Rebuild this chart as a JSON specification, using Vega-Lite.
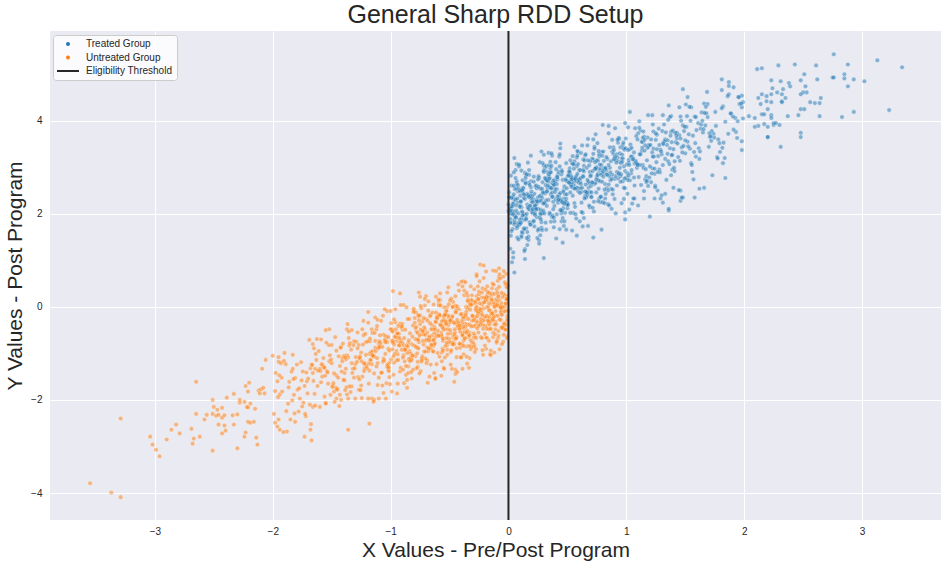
{
"$schema": "https://vega.github.io/schema/vega-lite/v6.json",
"width": 891,
"height": 489,
"autosize": {"type": "none"},
"padding": {"left": 50, "top": 31, "right": 7, "bottom": 46},
"background": "white",
"title": {"text": "General Sharp RDD Setup", "fontSize": 25, "font": "Liberation Sans", "fontWeight": "normal", "color": "#262626", "anchor": "middle", "offset": 2},
"config": {
"view": {"fill": "#eaeaf2", "stroke": null},
"axis": {"grid": true, "gridColor": "#ffffff", "gridWidth": 1, "domain": false, "ticks": false, "labelFont": "Liberation Sans", "labelFontSize": 10, "labelColor": "#262626", "titleFont": "Liberation Sans", "titleFontSize": 21, "titleFontWeight": "normal", "titleColor": "#262626"},
"legend": {"labelFont": "Liberation Sans", "labelFontSize": 10, "labelColor": "#262626"}
},
"datasets": {
"T": [
{"x":0.05,"y":0.74},{"x":0.04,"y":1.17},{"x":0.04,"y":1.06},{"x":0.03,"y":0.96},{"x":0.14,"y":1.03},{"x":0.30,"y":1.05},{"x":0.46,"y":1.38},{"x":0.58,"y":1.53},{"x":0.72,"y":1.49},{"x":0.79,"y":1.66},{"x":1.20,"y":1.94},{"x":1.36,"y":2.07},{"x":0.99,"y":2.03},{"x":0.99,"y":1.88},{"x":1.10,"y":2.18},{"x":1.46,"y":2.28},{"x":1.48,"y":2.35},{"x":1.58,"y":2.35},{"x":1.62,"y":2.54},{"x":1.40,"y":2.56},{"x":1.46,"y":2.50},{"x":1.33,"y":2.43},{"x":1.29,"y":2.33},{"x":1.31,"y":2.24},{"x":0.05,"y":3.20},{"x":0.07,"y":3.07},{"x":0.09,"y":3.02},{"x":0.11,"y":2.93},{"x":0.19,"y":3.25},{"x":0.28,"y":3.34},{"x":0.30,"y":3.27},{"x":0.44,"y":3.51},{"x":1.48,"y":4.68},{"x":1.52,"y":4.51},{"x":1.45,"y":4.29},{"x":1.69,"y":4.36},{"x":1.81,"y":4.66},{"x":1.87,"y":4.57},{"x":1.91,"y":4.72},{"x":1.87,"y":4.83},{"x":1.81,"y":4.89},{"x":1.95,"y":4.51},{"x":1.98,"y":4.54},{"x":1.99,"y":4.40},{"x":1.98,"y":4.29},{"x":1.03,"y":4.19},{"x":1.22,"y":4.12},{"x":1.31,"y":4.12},{"x":1.38,"y":4.10},{"x":0.99,"y":3.95},{"x":0.85,"y":3.89},{"x":0.80,"y":3.91},{"x":1.82,"y":4.31},{"x":1.84,"y":2.77},{"x":1.98,"y":3.37},{"x":2.20,"y":3.65},{"x":2.25,"y":3.91},{"x":2.30,"y":3.91},{"x":1.66,"y":2.56},{"x":1.47,"y":2.35},{"x":1.36,"y":2.11},{"x":1.24,"y":2.33},{"x":1.15,"y":2.33},{"x":1.07,"y":2.33},
{"x":2.76,"y":5.43},{"x":3.13,"y":5.30},{"x":3.34,"y":5.15},{"x":3.23,"y":4.23},{"x":3.02,"y":4.85},{"x":2.88,"y":5.21},{"x":2.85,"y":5.00},{"x":2.85,"y":4.91},{"x":2.93,"y":4.89},{"x":2.88,"y":4.74},{"x":2.75,"y":4.93},{"x":2.76,"y":4.93},{"x":2.93,"y":4.19},{"x":2.83,"y":4.08},{"x":2.61,"y":5.19},{"x":2.62,"y":4.89},{"x":2.65,"y":4.49},{"x":2.64,"y":4.10},{"x":2.60,"y":4.38},{"x":2.56,"y":4.40},{"x":2.64,"y":4.38},{"x":2.43,"y":5.21},{"x":2.51,"y":5.00},{"x":2.48,"y":4.87},{"x":2.52,"y":4.74},{"x":2.53,"y":4.61},{"x":2.50,"y":4.61},{"x":2.48,"y":4.57},{"x":2.48,"y":4.25},{"x":2.51,"y":4.25},{"x":2.46,"y":4.12},{"x":2.48,"y":3.74},{"x":2.48,"y":3.65},{"x":2.29,"y":5.19},{"x":2.38,"y":4.81},{"x":2.39,"y":4.74},{"x":2.33,"y":4.68},{"x":2.31,"y":4.85},{"x":2.28,"y":4.61},{"x":2.32,"y":4.57},{"x":2.32,"y":4.42},{"x":2.32,"y":4.40},{"x":2.35,"y":4.49},{"x":2.37,"y":4.10},{"x":2.31,"y":3.44},{"x":2.11,"y":5.11},{"x":2.15,"y":5.13},{"x":2.23,"y":4.87},{"x":2.23,"y":4.57},{"x":2.24,"y":4.70},{"x":2.15,"y":4.57},{"x":2.12,"y":4.49},{"x":2.14,"y":4.36},{"x":2.19,"y":4.42},{"x":2.23,"y":4.40},{"x":2.19,"y":4.53},{"x":2.15,"y":4.14},{"x":2.17,"y":4.14},{"x":2.20,"y":4.25},{"x":2.23,"y":4.12},{"x":2.23,"y":4.06},{"x":2.25,"y":3.95},{"x":2.27,"y":3.95},{"x":2.17,"y":3.93},{"x":2.20,"y":3.87},{"x":2.20,"y":3.65},{"x":2.12,"y":3.89},{"x":2.09,"y":3.87},{"x":2.04,"y":4.10},{"x":2.09,"y":4.06},
{"x":0.01,"y":2.11},{"x":0.13,"y":1.87},{"x":0.07,"y":2.64},{"x":0.18,"y":2.11},{"x":0.04,"y":2.37},{"x":0.11,"y":1.53},{"x":0.16,"y":2.38},{"x":0.02,"y":2.03},{"x":0.09,"y":2.55},{"x":0.14,"y":1.97},{"x":0.06,"y":2.94},{"x":0.19,"y":1.77},{"x":0.03,"y":2.17},{"x":0.12,"y":2.02},{"x":0.08,"y":2.48},{"x":0.17,"y":1.44},{"x":0.05,"y":2.31},{"x":0.10,"y":1.79},{"x":0.15,"y":2.82},{"x":0.00,"y":2.06},
{"x":0.02,"y":1.53},{"x":0.14,"y":2.32},{"x":0.06,"y":2.02},{"x":0.19,"y":2.70},{"x":0.03,"y":1.81},{"x":0.12,"y":2.48},{"x":0.17,"y":1.51},{"x":0.01,"y":2.13},{"x":0.10,"y":2.39},{"x":0.13,"y":1.99},{"x":0.07,"y":2.70},{"x":0.18,"y":1.82},{"x":0.04,"y":2.23},{"x":0.11,"y":2.14},{"x":0.09,"y":2.51},{"x":0.16,"y":1.33},{"x":0.06,"y":2.30},{"x":0.11,"y":1.91},{"x":0.14,"y":2.88},{"x":0.01,"y":2.00},
{"x":0.03,"y":2.34},{"x":0.15,"y":1.69},{"x":0.08,"y":2.24},{"x":0.17,"y":2.66},{"x":0.05,"y":1.77},{"x":0.10,"y":2.18},{"x":0.18,"y":2.09},{"x":0.02,"y":2.82},{"x":0.12,"y":1.59},{"x":0.16,"y":2.43},{"x":0.04,"y":2.01},{"x":0.19,"y":2.57},{"x":0.07,"y":1.69},{"x":0.13,"y":2.34},{"x":0.09,"y":3.06},{"x":0.15,"y":1.91},{"x":0.02,"y":2.11},{"x":0.11,"y":1.50},{"x":0.18,"y":2.62},{"x":0.06,"y":1.94},
{"x":0.04,"y":2.21},{"x":0.12,"y":2.72},{"x":0.09,"y":1.76},{"x":0.16,"y":2.20},{"x":0.01,"y":2.35},{"x":0.14,"y":1.24},{"x":0.19,"y":2.42},{"x":0.05,"y":1.87},{"x":0.08,"y":2.62},{"x":0.17,"y":2.11},{"x":0.03,"y":2.16},{"x":0.13,"y":1.69},{"x":0.10,"y":2.49},{"x":0.18,"y":2.16},{"x":0.06,"y":2.77},{"x":0.15,"y":1.88},{"x":0.00,"y":2.20},{"x":0.12,"y":1.97},{"x":0.07,"y":2.55},{"x":0.16,"y":1.61},
{"x":0.21,"y":2.11},{"x":0.33,"y":2.73},{"x":0.27,"y":1.54},{"x":0.38,"y":2.64},{"x":0.24,"y":1.93},{"x":0.31,"y":2.98},{"x":0.36,"y":2.42},{"x":0.22,"y":1.73},{"x":0.29,"y":2.47},{"x":0.34,"y":2.30},{"x":0.26,"y":2.77},{"x":0.39,"y":2.17},{"x":0.23,"y":2.59},{"x":0.32,"y":1.66},{"x":0.28,"y":2.40},{"x":0.37,"y":2.66},{"x":0.25,"y":2.11},{"x":0.30,"y":2.93},{"x":0.35,"y":1.99},{"x":0.20,"y":2.39},
{"x":0.23,"y":2.26},{"x":0.35,"y":2.77},{"x":0.26,"y":1.43},{"x":0.39,"y":2.63},{"x":0.21,"y":2.01},{"x":0.30,"y":3.04},{"x":0.37,"y":2.36},{"x":0.24,"y":2.55},{"x":0.28,"y":1.82},{"x":0.33,"y":2.49},{"x":0.25,"y":2.74},{"x":0.38,"y":2.10},{"x":0.22,"y":2.30},{"x":0.31,"y":2.22},{"x":0.29,"y":3.09},{"x":0.36,"y":1.83},{"x":0.27,"y":2.54},{"x":0.32,"y":2.29},{"x":0.34,"y":2.72},{"x":0.21,"y":1.83},
{"x":0.22,"y":2.43},{"x":0.34,"y":3.31},{"x":0.28,"y":2.04},{"x":0.37,"y":2.46},{"x":0.25,"y":1.64},{"x":0.32,"y":2.76},{"x":0.38,"y":2.26},{"x":0.20,"y":2.37},{"x":0.30,"y":2.90},{"x":0.35,"y":2.02},{"x":0.24,"y":2.28},{"x":0.39,"y":2.73},{"x":0.26,"y":1.36},{"x":0.33,"y":2.56},{"x":0.27,"y":2.09},{"x":0.36,"y":2.90},{"x":0.23,"y":2.17},{"x":0.31,"y":2.44},{"x":0.37,"y":1.93},{"x":0.29,"y":2.68},
{"x":0.24,"y":2.22},{"x":0.32,"y":3.03},{"x":0.29,"y":2.02},{"x":0.36,"y":2.56},{"x":0.21,"y":2.06},{"x":0.34,"y":2.82},{"x":0.39,"y":1.84},{"x":0.25,"y":2.35},{"x":0.27,"y":2.01},{"x":0.33,"y":2.90},{"x":0.22,"y":2.15},{"x":0.38,"y":2.71},{"x":0.28,"y":1.70},{"x":0.35,"y":2.57},{"x":0.26,"y":2.27},{"x":0.31,"y":2.77},{"x":0.20,"y":2.03},{"x":0.37,"y":3.25},
{"x":0.41,"y":2.53},{"x":0.53,"y":2.82},{"x":0.47,"y":2.33},{"x":0.58,"y":3.21},{"x":0.44,"y":2.08},{"x":0.51,"y":2.70},{"x":0.56,"y":2.59},{"x":0.42,"y":2.84},{"x":0.49,"y":1.66},{"x":0.54,"y":2.78},{"x":0.46,"y":2.26},{"x":0.59,"y":3.33},{"x":0.43,"y":2.42},{"x":0.52,"y":2.83},{"x":0.48,"y":2.02},{"x":0.57,"y":2.73},{"x":0.45,"y":2.94},{"x":0.50,"y":2.22},{"x":0.55,"y":2.63},{"x":0.40,"y":2.31},
{"x":0.43,"y":3.23},{"x":0.55,"y":2.02},{"x":0.46,"y":2.73},{"x":0.59,"y":2.56},{"x":0.41,"y":2.79},{"x":0.50,"y":2.12},{"x":0.57,"y":2.78},{"x":0.44,"y":3.41},{"x":0.48,"y":2.24},{"x":0.53,"y":2.62},{"x":0.45,"y":1.84},{"x":0.58,"y":3.02},{"x":0.42,"y":2.30},{"x":0.51,"y":2.68},{"x":0.49,"y":3.09},{"x":0.56,"y":2.23},{"x":0.47,"y":2.51},{"x":0.52,"y":2.86},{"x":0.54,"y":1.64},{"x":0.41,"y":2.64},
{"x":0.42,"y":2.24},{"x":0.54,"y":3.08},{"x":0.48,"y":2.42},{"x":0.57,"y":2.70},{"x":0.45,"y":2.01},{"x":0.52,"y":2.91},{"x":0.58,"y":2.56},{"x":0.40,"y":3.11},{"x":0.50,"y":2.23},{"x":0.55,"y":2.75},{"x":0.44,"y":2.29},{"x":0.59,"y":3.07},{"x":0.46,"y":1.91},{"x":0.53,"y":2.63},{"x":0.47,"y":2.21},{"x":0.56,"y":3.13},{"x":0.43,"y":2.36},{"x":0.51,"y":2.84},{"x":0.57,"y":1.99},{"x":0.49,"y":2.71},
{"x":0.44,"y":2.45},{"x":0.52,"y":2.98},{"x":0.49,"y":2.32},{"x":0.56,"y":3.44},{"x":0.41,"y":1.99},{"x":0.54,"y":2.68},{"x":0.59,"y":2.49},{"x":0.45,"y":2.85},{"x":0.47,"y":1.74},{"x":0.53,"y":2.79},
{"x":0.61,"y":2.69},{"x":0.73,"y":2.64},{"x":0.67,"y":3.47},{"x":0.78,"y":2.25},{"x":0.64,"y":2.91},{"x":0.71,"y":2.68},{"x":0.76,"y":3.14},{"x":0.62,"y":2.24},{"x":0.69,"y":2.90},{"x":0.74,"y":3.71},{"x":0.66,"y":2.42},{"x":0.79,"y":2.88},{"x":0.63,"y":2.02},{"x":0.72,"y":3.16},{"x":0.68,"y":2.56},{"x":0.77,"y":2.94},{"x":0.65,"y":3.25},{"x":0.70,"y":2.37},{"x":0.75,"y":2.79},{"x":0.60,"y":2.94},
{"x":0.63,"y":1.73},{"x":0.75,"y":2.98},{"x":0.66,"y":2.48},{"x":0.79,"y":3.33},{"x":0.61,"y":2.55},{"x":0.70,"y":2.83},{"x":0.77,"y":2.33},{"x":0.64,"y":3.03},{"x":0.68,"y":2.66},{"x":0.73,"y":3.44},{"x":0.65,"y":2.38},{"x":0.78,"y":2.98},{"x":0.62,"y":2.47},{"x":0.71,"y":3.19},{"x":0.69,"y":2.14},{"x":0.76,"y":2.86},{"x":0.67,"y":2.41},{"x":0.72,"y":3.29},{"x":0.74,"y":2.67},{"x":0.61,"y":2.94},
{"x":0.62,"y":2.04},{"x":0.74,"y":2.96},{"x":0.68,"y":2.69},{"x":0.77,"y":3.23},{"x":0.65,"y":2.48},{"x":0.72,"y":3.60},{"x":0.78,"y":2.36},{"x":0.60,"y":2.74},{"x":0.70,"y":2.60},{"x":0.75,"y":3.15},{"x":0.64,"y":1.91},{"x":0.79,"y":3.05},{"x":0.66,"y":2.35},{"x":0.73,"y":3.40},{"x":0.67,"y":2.73},{"x":0.76,"y":2.27},{"x":0.63,"y":2.81},{"x":0.71,"y":2.67},{"x":0.77,"y":3.28},{"x":0.69,"y":2.47},
{"x":0.81,"y":2.98},{"x":0.93,"y":3.53},{"x":0.87,"y":2.54},{"x":0.98,"y":3.02},{"x":0.84,"y":3.18},{"x":0.91,"y":2.01},{"x":0.96,"y":3.19},{"x":0.82,"y":2.64},{"x":0.89,"y":3.43},{"x":0.94,"y":2.88},{"x":0.86,"y":2.99},{"x":0.99,"y":2.55},{"x":0.83,"y":3.22},{"x":0.92,"y":2.90},{"x":0.88,"y":3.59},{"x":0.97,"y":2.70},{"x":0.85,"y":3.05},{"x":0.90,"y":2.75},{"x":0.95,"y":3.43},{"x":0.80,"y":2.25},
{"x":0.83,"y":2.93},{"x":0.95,"y":2.69},{"x":0.86,"y":3.43},{"x":0.99,"y":2.92},{"x":0.81,"y":3.14},{"x":0.90,"y":2.32},{"x":0.97,"y":3.19},{"x":0.84,"y":2.85},{"x":0.88,"y":3.34},{"x":0.93,"y":2.76},{"x":0.85,"y":3.73},{"x":0.98,"y":2.56},{"x":0.82,"y":2.96},{"x":0.91,"y":2.81},{"x":0.89,"y":3.29},{"x":0.96,"y":2.23},{"x":0.87,"y":3.13},{"x":0.92,"y":2.61},{"x":0.94,"y":3.61},{"x":0.81,"y":2.87},
{"x":0.82,"y":2.33},{"x":0.94,"y":3.12},{"x":0.88,"y":2.84},{"x":0.97,"y":3.48},{"x":0.85,"y":2.63},{"x":0.92,"y":3.28},{"x":0.98,"y":2.32},{"x":0.80,"y":2.92},{"x":0.90,"y":3.19},{"x":0.95,"y":2.81},
{"x":1.01,"y":2.43},{"x":1.13,"y":3.35},{"x":1.07,"y":3.08},{"x":1.18,"y":3.64},{"x":1.04,"y":2.87},{"x":1.11,"y":3.99},{"x":1.16,"y":2.74},{"x":1.02,"y":3.16},{"x":1.09,"y":2.99},{"x":1.14,"y":3.54},{"x":1.06,"y":2.33},{"x":1.19,"y":3.45},{"x":1.03,"y":2.72},{"x":1.12,"y":3.79},{"x":1.08,"y":3.14},{"x":1.17,"y":2.68},{"x":1.05,"y":3.23},{"x":1.10,"y":3.06},{"x":1.15,"y":3.66},{"x":1.00,"y":2.78},
{"x":1.03,"y":3.39},{"x":1.15,"y":2.49},{"x":1.06,"y":3.18},{"x":1.19,"y":3.48},{"x":1.01,"y":2.87},{"x":1.10,"y":3.73},{"x":1.17,"y":2.81},{"x":1.04,"y":3.23},{"x":1.08,"y":3.11},{"x":1.13,"y":3.55},{"x":1.05,"y":2.22},{"x":1.18,"y":3.42},{"x":1.02,"y":2.82},{"x":1.11,"y":3.85},{"x":1.09,"y":3.08},{"x":1.16,"y":3.47},{"x":1.07,"y":2.61},{"x":1.12,"y":3.28},{"x":1.14,"y":3.63},{"x":1.01,"y":2.73},{"x":1.02,"y":3.10},{"x":1.14,"y":3.05},
{"x":1.21,"y":2.68},{"x":1.33,"y":3.60},{"x":1.27,"y":3.24},{"x":1.38,"y":3.76},{"x":1.24,"y":2.86},{"x":1.31,"y":3.52},{"x":1.36,"y":4.33},{"x":1.22,"y":2.98},{"x":1.29,"y":3.38},{"x":1.34,"y":2.73},{"x":1.26,"y":3.70},{"x":1.39,"y":3.27},{"x":1.23,"y":3.40},{"x":1.32,"y":3.92},{"x":1.28,"y":2.95},{"x":1.37,"y":3.41},{"x":1.25,"y":3.59},{"x":1.30,"y":2.40},{"x":1.35,"y":3.58},{"x":1.20,"y":3.02},
{"x":1.23,"y":3.77},{"x":1.35,"y":3.29},{"x":1.26,"y":3.39},{"x":1.39,"y":2.95},{"x":1.21,"y":3.60},{"x":1.30,"y":3.28},{"x":1.37,"y":4.08},{"x":1.24,"y":2.97},{"x":1.28,"y":3.48},{"x":1.33,"y":3.18},{"x":1.25,"y":3.73},{"x":1.38,"y":2.83},{"x":1.22,"y":3.32},{"x":1.31,"y":3.05},
{"x":1.41,"y":2.92},{"x":1.53,"y":3.71},{"x":1.47,"y":3.43},{"x":1.58,"y":4.09},{"x":1.44,"y":3.22},{"x":1.51,"y":3.87},{"x":1.56,"y":2.90},{"x":1.42,"y":3.54},{"x":1.49,"y":3.78},{"x":1.54,"y":3.40},{"x":1.46,"y":4.09},{"x":1.59,"y":3.23},{"x":1.43,"y":3.62},{"x":1.52,"y":3.55},{"x":1.48,"y":3.90},{"x":1.57,"y":2.74},{"x":1.45,"y":3.69},{"x":1.50,"y":3.30},{"x":1.55,"y":4.29},{"x":1.40,"y":3.39},{"x":1.43,"y":3.74},{"x":1.55,"y":3.09},{"x":1.46,"y":3.62},{"x":1.59,"y":4.08},{"x":1.41,"y":3.13},{"x":1.50,"y":3.58},
{"x":1.61,"y":3.95},{"x":1.73,"y":2.83},{"x":1.67,"y":3.90},{"x":1.78,"y":3.60},{"x":1.64,"y":4.18},{"x":1.71,"y":3.65},{"x":1.76,"y":3.89},{"x":1.62,"y":3.18},{"x":1.69,"y":4.08},{"x":1.74,"y":3.72},{"x":1.66,"y":4.37},{"x":1.79,"y":3.52},{"x":1.63,"y":3.83},{"x":1.72,"y":3.57},{"x":1.68,"y":4.16},{"x":1.77,"y":3.22},{"x":1.65,"y":3.75},{"x":1.70,"y":3.44},
{"x":1.81,"y":4.27},{"x":1.93,"y":3.76},{"x":1.87,"y":4.75},{"x":1.98,"y":3.56},{"x":1.84,"y":3.98},{"x":1.91,"y":3.81},{"x":1.96,"y":4.36},{"x":1.82,"y":3.09},{"x":1.89,"y":4.15},{"x":1.94,"y":3.63},{"x":1.86,"y":4.53},{"x":1.99,"y":4.05},
{"x":0.015,"y":1.89},{"x":0.125,"y":2.54},{"x":0.065,"y":2.07},{"x":0.175,"y":2.84},{"x":0.035,"y":1.67},{"x":0.105,"y":2.26},{"x":0.155,"y":1.48},{"x":0.025,"y":2.35},{"x":0.085,"y":2.01},{"x":0.145,"y":2.68},{"x":0.055,"y":1.81},{"x":0.195,"y":2.27},{"x":0.045,"y":2.89},{"x":0.115,"y":1.61},{"x":0.075,"y":2.33},{"x":0.165,"y":2.14},{"x":0.005,"y":2.46},{"x":0.095,"y":1.78},{"x":0.185,"y":2.39},{"x":0.135,"y":1.20},
{"x":0.025,"y":2.61},{"x":0.155,"y":2.00},{"x":0.065,"y":2.18},{"x":0.185,"y":1.77},{"x":0.045,"y":2.42},{"x":0.115,"y":2.05},{"x":0.175,"y":2.94},{"x":0.015,"y":1.81},{"x":0.095,"y":2.15},{"x":0.145,"y":2.65},{"x":0.075,"y":1.49},{"x":0.195,"y":2.48},{"x":0.035,"y":2.06},{"x":0.125,"y":2.56},{"x":0.085,"y":1.80},{"x":0.165,"y":3.10},{"x":0.055,"y":1.95},{"x":0.105,"y":2.27},{"x":0.135,"y":1.67},{"x":0.005,"y":2.36},
{"x":0.035,"y":1.99},{"x":0.145,"y":2.77},{"x":0.075,"y":1.73},{"x":0.165,"y":2.40},{"x":0.015,"y":1.25},{"x":0.125,"y":2.43},{"x":0.185,"y":2.18},{"x":0.055,"y":2.53},{"x":0.095,"y":1.87},{"x":0.155,"y":2.85},{"x":0.025,"y":1.63},{"x":0.195,"y":2.33},{"x":0.065,"y":1.92},{"x":0.115,"y":2.51},{"x":0.085,"y":1.45},{"x":0.175,"y":2.36},{"x":0.045,"y":2.60},{"x":0.105,"y":1.81},{"x":0.135,"y":2.41},{"x":0.015,"y":2.06},
{"x":0.215,"y":2.80},{"x":0.325,"y":2.17},{"x":0.265,"y":2.38},{"x":0.375,"y":1.96},{"x":0.235,"y":2.61},{"x":0.305,"y":2.24},{"x":0.355,"y":3.12},{"x":0.225,"y":2.02},{"x":0.285,"y":2.34},{"x":0.345,"y":2.85},{"x":0.255,"y":1.67},{"x":0.395,"y":2.68},{"x":0.245,"y":2.27},{"x":0.315,"y":2.75},{"x":0.275,"y":1.99},{"x":0.365,"y":3.30},{"x":0.205,"y":2.10},{"x":0.295,"y":2.46},{"x":0.385,"y":1.92},{"x":0.335,"y":2.69},
{"x":0.225,"y":2.18},{"x":0.355,"y":2.98},{"x":0.265,"y":1.92},{"x":0.385,"y":2.62},{"x":0.245,"y":1.48},{"x":0.315,"y":2.62},{"x":0.375,"y":2.37},{"x":0.215,"y":2.69},{"x":0.295,"y":2.07},{"x":0.345,"y":3.04},{"x":0.275,"y":1.88},{"x":0.395,"y":2.53},{"x":0.235,"y":2.09},{"x":0.325,"y":2.72},{"x":0.285,"y":1.65},{"x":0.365,"y":2.55},{"x":0.255,"y":2.81},{"x":0.305,"y":2.01},{"x":0.335,"y":2.61},{"x":0.205,"y":2.25},
{"x":0.235,"y":2.11},{"x":0.345,"y":2.76},{"x":0.275,"y":2.28},{"x":0.365,"y":3.03},{"x":0.215,"y":1.85},{"x":0.325,"y":2.48},{"x":0.385,"y":1.71},{"x":0.255,"y":2.58},{"x":0.295,"y":2.22},{"x":0.355,"y":2.89},{"x":0.225,"y":1.98},{"x":0.395,"y":2.47},{"x":0.265,"y":3.11},{"x":0.315,"y":1.81},{"x":0.285,"y":2.54},
{"x":0.415,"y":2.37},{"x":0.525,"y":3.15},{"x":0.465,"y":2.12},{"x":0.575,"y":2.81},{"x":0.435,"y":1.67},{"x":0.505,"y":2.81},{"x":0.555,"y":2.55},{"x":0.425,"y":2.90},{"x":0.485,"y":2.26},{"x":0.545,"y":3.24},{"x":0.455,"y":2.06},{"x":0.595,"y":2.73},{"x":0.445,"y":2.30},{"x":0.515,"y":2.91},{"x":0.475,"y":1.84},{"x":0.565,"y":2.75},{"x":0.405,"y":2.96},{"x":0.495,"y":2.20},{"x":0.585,"y":2.86},{"x":0.535,"y":2.58},
{"x":0.425,"y":2.30},{"x":0.555,"y":2.97},{"x":0.465,"y":2.47},{"x":0.585,"y":3.25},{"x":0.445,"y":2.08},{"x":0.515,"y":2.67},{"x":0.575,"y":1.90},{"x":0.415,"y":2.74},{"x":0.495,"y":2.42},{"x":0.545,"y":3.08},{"x":0.475,"y":2.23},{"x":0.595,"y":2.67},{"x":0.435,"y":3.28},{"x":0.525,"y":2.02},{"x":0.485,"y":2.74},{"x":0.565,"y":2.54},{"x":0.455,"y":2.91},{"x":0.505,"y":2.19},{"x":0.535,"y":2.74},{"x":0.405,"y":1.47},
{"x":0.435,"y":3.02},{"x":0.545,"y":2.39},{"x":0.475,"y":2.59},{"x":0.565,"y":2.15},{"x":0.415,"y":2.79},{"x":0.525,"y":2.46},{"x":0.585,"y":3.35},{"x":0.455,"y":2.25},{"x":0.495,"y":2.55},{"x":0.555,"y":3.06},
{"x":0.615,"y":2.77},{"x":0.725,"y":2.05},{"x":0.665,"y":2.99},{"x":0.775,"y":2.70},{"x":0.635,"y":3.17},{"x":0.705,"y":2.46},{"x":0.755,"y":2.83},{"x":0.625,"y":3.47},{"x":0.685,"y":2.18},{"x":0.745,"y":3.00},{"x":0.655,"y":2.63},{"x":0.795,"y":3.25},{"x":0.645,"y":2.33},{"x":0.715,"y":2.92},{"x":0.675,"y":1.74},{"x":0.765,"y":3.35},{"x":0.605,"y":2.45},{"x":0.695,"y":2.81},{"x":0.785,"y":2.37},{"x":0.735,"y":3.11},
{"x":0.625,"y":2.56},{"x":0.755,"y":3.52},{"x":0.665,"y":2.46},{"x":0.785,"y":2.84},{"x":0.645,"y":3.15},{"x":0.715,"y":2.13},{"x":0.775,"y":3.06},{"x":0.615,"y":2.64},{"x":0.695,"y":3.13},{"x":0.745,"y":2.46},{"x":0.675,"y":3.61},{"x":0.795,"y":2.69},{"x":0.635,"y":2.80},{"x":0.725,"y":2.26},{"x":0.685,"y":3.04},{"x":0.765,"y":2.72},{"x":0.655,"y":3.28},{"x":0.705,"y":2.36},{"x":0.735,"y":2.97},{"x":0.605,"y":1.84},
{"x":0.635,"y":2.94},{"x":0.745,"y":2.74},{"x":0.675,"y":3.15},{"x":0.765,"y":2.54},{"x":0.615,"y":3.31},
{"x":0.815,"y":2.23},{"x":0.925,"y":3.21},{"x":0.865,"y":2.89},{"x":0.975,"y":3.41},{"x":0.835,"y":2.55},{"x":0.905,"y":3.84},{"x":0.955,"y":2.85},{"x":0.825,"y":2.99},{"x":0.885,"y":2.42},{"x":0.945,"y":3.30},{"x":0.855,"y":2.81},{"x":0.995,"y":3.62},{"x":0.845,"y":2.50},{"x":0.915,"y":3.15},{"x":0.875,"y":2.11},{"x":0.965,"y":3.27},{"x":0.805,"y":2.80},{"x":0.895,"y":3.37},{"x":0.985,"y":2.76},{"x":0.935,"y":3.63},
{"x":0.825,"y":2.43},{"x":0.955,"y":3.09},{"x":0.865,"y":2.72},{"x":0.985,"y":3.38},{"x":0.845,"y":2.21},{"x":0.915,"y":3.10},{"x":0.975,"y":3.53},{"x":0.815,"y":2.52},{"x":0.895,"y":3.17},{"x":0.945,"y":2.99},{"x":0.875,"y":2.75},{"x":0.995,"y":3.41},{"x":0.835,"y":2.84},{"x":0.925,"y":3.59},{"x":0.885,"y":2.52},{"x":0.965,"y":3.12},{"x":0.855,"y":2.18},{"x":0.905,"y":3.23},{"x":0.935,"y":2.86},{"x":0.805,"y":3.34},
{"x":1.015,"y":3.86},{"x":1.125,"y":2.62},{"x":1.065,"y":3.32},{"x":1.175,"y":3.15},{"x":1.035,"y":3.49},{"x":1.105,"y":2.79},{"x":1.155,"y":3.36},{"x":1.025,"y":2.09},{"x":1.085,"y":3.67},{"x":1.145,"y":2.99},{"x":1.055,"y":3.17},{"x":1.195,"y":2.78},{"x":1.045,"y":3.42},{"x":1.115,"y":3.05},{"x":1.075,"y":3.84},{"x":1.165,"y":2.96},{"x":1.005,"y":3.06},{"x":1.095,"y":3.60},{"x":1.185,"y":2.60},{"x":1.135,"y":3.42},{"x":1.025,"y":3.05},{"x":1.155,"y":3.59},{"x":1.065,"y":2.78},{"x":1.185,"y":4.12},{"x":1.045,"y":2.94},{"x":1.115,"y":3.28},{"x":1.175,"y":2.71},{"x":1.015,"y":3.37},{"x":1.095,"y":3.05},{"x":1.145,"y":3.77},
{"x":1.215,"y":2.87},{"x":1.325,"y":3.56},{"x":1.265,"y":2.50},{"x":1.375,"y":3.68},{"x":1.235,"y":3.23},{"x":1.305,"y":3.78},{"x":1.355,"y":3.13},{"x":1.225,"y":3.92},{"x":1.285,"y":2.89},{"x":1.345,"y":3.48},{"x":1.255,"y":3.11},{"x":1.395,"y":3.79},{"x":1.245,"y":2.61},{"x":1.315,"y":3.50},{"x":1.275,"y":3.83},{"x":1.365,"y":3.07},{"x":1.205,"y":3.48},{"x":1.295,"y":3.34},{"x":1.385,"y":3.26},{"x":1.335,"y":3.75},{"x":1.225,"y":3.23},{"x":1.355,"y":4.02},{"x":1.265,"y":2.90},{"x":1.385,"y":3.54},{"x":1.245,"y":2.57},
{"x":1.415,"y":3.74},{"x":1.525,"y":3.45},{"x":1.465,"y":4.00},{"x":1.575,"y":3.33},{"x":1.435,"y":3.51},{"x":1.505,"y":4.35},{"x":1.555,"y":3.05},{"x":1.425,"y":3.68},{"x":1.485,"y":3.46},{"x":1.545,"y":4.00},{"x":1.455,"y":3.14},{"x":1.595,"y":3.80},{"x":1.445,"y":2.51},{"x":1.515,"y":4.10},{"x":1.475,"y":3.32},{"x":1.565,"y":3.68},{"x":1.405,"y":2.99},{"x":1.495,"y":3.87},{"x":1.585,"y":3.52},{"x":1.535,"y":4.30},
{"x":1.615,"y":3.41},{"x":1.725,"y":3.78},{"x":1.665,"y":4.17},{"x":1.775,"y":3.19},{"x":1.635,"y":3.92},{"x":1.705,"y":3.73},{"x":1.755,"y":4.19},{"x":1.625,"y":3.34},{"x":1.685,"y":4.62},{"x":1.745,"y":3.64},{"x":1.655,"y":3.82},{"x":1.795,"y":3.33},{"x":1.645,"y":4.00},{"x":1.715,"y":3.67},{"x":1.675,"y":4.30},
{"x":1.815,"y":3.42},{"x":1.925,"y":4.06},{"x":1.865,"y":3.72},{"x":1.975,"y":4.37},{"x":1.835,"y":3.20},{"x":1.905,"y":4.09},{"x":1.955,"y":4.51},{"x":1.825,"y":3.53},{"x":1.885,"y":4.16},{"x":1.945,"y":3.99}
],
"U": [
{"x":-3.55,"y":-3.79},{"x":-3.37,"y":-3.99},{"x":-3.29,"y":-4.09},{"x":-3.29,"y":-2.40},{"x":-3.04,"y":-2.79},{"x":-3.02,"y":-2.96},{"x":-2.99,"y":-3.07},{"x":-2.96,"y":-3.21},{"x":-2.90,"y":-2.85},{"x":-2.86,"y":-2.64},{"x":-2.82,"y":-2.53},{"x":-2.79,"y":-2.72},{"x":-2.69,"y":-2.62},{"x":-2.68,"y":-2.94},{"x":-2.67,"y":-2.83},{"x":-2.65,"y":-1.61},{"x":-2.65,"y":-2.30},{"x":-2.62,"y":-2.79},{"x":-2.58,"y":-2.42},{"x":-2.56,"y":-2.32},{"x":-2.51,"y":-2.30},{"x":-2.51,"y":-2.00},{"x":-2.51,"y":-3.09},{"x":-2.50,"y":-2.15},{"x":-2.47,"y":-2.21},{"x":-2.48,"y":-2.34},{"x":-2.46,"y":-2.32},{"x":-2.43,"y":-2.38},{"x":-2.43,"y":-2.17},{"x":-2.41,"y":-2.33},{"x":-2.46,"y":-2.53},{"x":-2.41,"y":-2.55},{"x":-2.40,"y":-2.66},{"x":-2.43,"y":-2.72},{"x":-2.39,"y":-1.95},{"x":-2.34,"y":-2.33},{"x":-2.33,"y":-2.53},{"x":-2.30,"y":-2.31},{"x":-2.33,"y":-1.87},{"x":-2.30,"y":-3.04},{"x":-2.28,"y":-2.06},{"x":-2.28,"y":-2.00},{"x":-2.24,"y":-2.04},{"x":-2.23,"y":-1.70},{"x":-2.20,"y":-1.63},{"x":-2.24,"y":-2.79},{"x":-2.23,"y":-2.70},{"x":-2.22,"y":-2.15},{"x":-2.21,"y":-2.16},{"x":-2.21,"y":-1.82},{"x":-2.21,"y":-2.47},{"x":-2.19,"y":-2.49},{"x":-2.16,"y":-2.47},{"x":-2.19,"y":-2.08},{"x":-2.15,"y":-2.19},{"x":-2.14,"y":-2.81},{"x":-2.13,"y":-2.96},{"x":-2.12,"y":-1.80},{"x":-2.10,"y":-1.77},{"x":-2.08,"y":-1.74},{"x":-2.07,"y":-1.86},{"x":-2.11,"y":-1.86},{"x":-2.09,"y":-1.33},{"x":-2.06,"y":-1.14},{"x":-2.00,"y":-1.05},{"x":-1.95,"y":-1.08},{"x":-1.95,"y":-1.18},{"x":-1.90,"y":-0.99},{"x":-1.83,"y":-1.03},
{"x":-1.19,"y":-0.11},{"x":-1.52,"y":-0.48},{"x":-1.37,"y":-0.48},{"x":-1.33,"y":-0.50},{"x":-1.66,"y":-0.80},{"x":-1.36,"y":-2.64},{"x":-1.18,"y":-2.51},{"x":-1.73,"y":-2.79},{"x":-1.67,"y":-2.87},{"x":-1.68,"y":-2.64},{"x":-1.88,"y":-2.68},{"x":-1.98,"y":-2.49},{"x":-1.95,"y":-2.42},{"x":-1.96,"y":-2.57},{"x":-1.94,"y":-2.64},{"x":-1.81,"y":-2.47},{"x":-1.85,"y":-2.42},{"x":-0.46,"y":-1.61},{"x":-0.63,"y":-1.42},{"x":-0.62,"y":-1.55},{"x":-0.45,"y":-1.35},{"x":-0.45,"y":-1.44},{"x":-0.39,"y":-1.33},{"x":-0.55,"y":-1.31},{"x":-0.86,"y":-1.57},{"x":-0.94,"y":-1.65},{"x":-0.99,"y":-1.82},{"x":-1.04,"y":-1.97},{"x":-1.16,"y":-1.97},{"x":-1.10,"y":-1.97},{"x":-1.06,"y":-1.85},{"x":-1.27,"y":-1.78},{"x":-1.36,"y":-1.97},{"x":-1.42,"y":-2.00},{"x":-1.46,"y":-1.97},{"x":-1.48,"y":-1.82},{"x":-1.55,"y":-2.06},{"x":-1.56,"y":-1.93},{"x":-1.60,"y":-2.15},{"x":-1.66,"y":-2.15},{"x":-1.64,"y":-2.12},
{"x":-0.24,"y":0.91},{"x":-0.21,"y":0.89},{"x":-0.27,"y":0.70},{"x":-0.19,"y":0.76},{"x":-0.13,"y":0.78},{"x":-0.08,"y":0.64},{"x":-0.38,"y":0.55},{"x":-0.39,"y":0.44},{"x":-0.51,"y":0.42},{"x":-0.52,"y":0.31},{"x":-0.98,"y":0.34},{"x":-0.92,"y":0.29},{"x":-0.76,"y":0.31},{"x":-0.70,"y":0.23},{"x":-0.89,"y":0.04},{"x":-1.03,"y":-0.09},{"x":-1.00,"y":-0.09},{"x":-1.13,"y":-0.23},{"x":-1.11,"y":-0.28},
{"x":-0.01,"y":0.23},{"x":-0.13,"y":-0.65},{"x":-0.07,"y":0.03},{"x":-0.18,"y":0.26},{"x":-0.04,"y":-0.39},{"x":-0.11,"y":-0.09},{"x":-0.16,"y":-0.30},{"x":-0.02,"y":0.71},{"x":-0.09,"y":-0.68},{"x":-0.14,"y":0.07},{"x":-0.06,"y":-0.15},{"x":-0.19,"y":0.14},{"x":-0.03,"y":-0.48},{"x":-0.12,"y":0.03},{"x":-0.08,"y":0.83},{"x":-0.17,"y":-0.46},{"x":-0.05,"y":-0.03},{"x":-0.10,"y":-0.77},{"x":-0.15,"y":0.23},{"x":-0.01,"y":-0.20},
{"x":-0.02,"y":0.08},{"x":-0.14,"y":0.40},{"x":-0.06,"y":-0.45},{"x":-0.19,"y":-0.20},{"x":-0.03,"y":0.24},{"x":-0.12,"y":-0.98},{"x":-0.17,"y":0.01},{"x":-0.01,"y":-0.26},{"x":-0.10,"y":0.38},{"x":-0.13,"y":-0.25},{"x":-0.07,"y":0.00},{"x":-0.18,"y":-0.67},{"x":-0.04,"y":0.28},{"x":-0.11,"y":-0.19},{"x":-0.09,"y":0.56},{"x":-0.16,"y":-0.48},{"x":-0.06,"y":0.08},{"x":-0.11,"y":-0.32},{"x":-0.14,"y":0.28},{"x":-0.01,"y":-0.63},
{"x":-0.03,"y":0.00},{"x":-0.15,"y":-0.47},{"x":-0.08,"y":0.43},{"x":-0.17,"y":-0.29},{"x":-0.05,"y":0.21},{"x":-0.10,"y":-0.74},{"x":-0.18,"y":-0.01},{"x":-0.02,"y":-0.08},{"x":-0.12,"y":0.28},{"x":-0.16,"y":-0.38},{"x":-0.04,"y":0.77},{"x":-0.19,"y":-0.66},{"x":-0.07,"y":0.01},{"x":-0.13,"y":-0.29},{"x":-0.09,"y":0.25},{"x":-0.15,"y":-0.94},{"x":-0.02,"y":0.17},{"x":-0.11,"y":-0.48},{"x":-0.18,"y":0.44},{"x":-0.06,"y":-0.06},
{"x":-0.04,"y":-0.60},{"x":-0.12,"y":0.00},{"x":-0.09,"y":-0.19},{"x":-0.16,"y":0.30},{"x":-0.01,"y":-0.30},{"x":-0.14,"y":0.16},{"x":-0.19,"y":-0.90},{"x":-0.05,"y":0.00},{"x":-0.08,"y":0.15},{"x":-0.17,"y":-0.36},{"x":-0.03,"y":0.53},{"x":-0.13,"y":-0.55},{"x":-0.10,"y":0.03},{"x":-0.18,"y":-0.20},{"x":-0.06,"y":0.30},{"x":-0.15,"y":-1.04},{"x":-0.01,"y":0.16},{"x":-0.12,"y":-0.38},{"x":-0.07,"y":0.61},{"x":-0.16,"y":-0.22},
{"x":-0.21,"y":-0.03},{"x":-0.33,"y":-0.55},{"x":-0.27,"y":0.23},{"x":-0.38,"y":-0.47},{"x":-0.24,"y":-0.16},{"x":-0.31,"y":-0.79},{"x":-0.36,"y":0.00},{"x":-0.22,"y":-0.29},{"x":-0.29,"y":0.38},{"x":-0.34,"y":-0.65},{"x":-0.26,"y":-0.10},{"x":-0.39,"y":-0.57},{"x":-0.23,"y":0.20},{"x":-0.32,"y":-0.91},{"x":-0.28,"y":-0.22},{"x":-0.37,"y":-0.66},{"x":-0.25,"y":0.27},{"x":-0.30,"y":-0.41},{"x":-0.35,"y":-0.06},{"x":-0.20,"y":-0.83},
{"x":-0.23,"y":-0.06},{"x":-0.35,"y":-0.38},{"x":-0.26,"y":0.16},{"x":-0.39,"y":-0.59},{"x":-0.21,"y":0.62},{"x":-0.30,"y":-0.76},{"x":-0.37,"y":-0.26},{"x":-0.24,"y":-0.39},{"x":-0.28,"y":0.08},{"x":-0.33,"y":-1.10},{"x":-0.25,"y":-0.04},{"x":-0.38,"y":-0.72},{"x":-0.22,"y":0.40},{"x":-0.31,"y":-0.29},{"x":-0.29,"y":-0.82},{"x":-0.36,"y":-0.21},{"x":-0.27,"y":-0.35},{"x":-0.32,"y":0.15},{"x":-0.34,"y":-0.60},{"x":-0.21,"y":0.10},
{"x":-0.22,"y":-0.93},{"x":-0.34,"y":-0.26},{"x":-0.28,"y":-0.03},{"x":-0.37,"y":-0.54},{"x":-0.25,"y":0.33},{"x":-0.32,"y":-0.72},{"x":-0.38,"y":-0.22},{"x":-0.20,"y":-0.22},{"x":-0.30,"y":0.08},{"x":-0.35,"y":-1.22},{"x":-0.24,"y":-0.05},{"x":-0.39,"y":-0.62},{"x":-0.26,"y":0.44},{"x":-0.33,"y":-0.38},{"x":-0.27,"y":0.00},{"x":-0.36,"y":-0.85},{"x":-0.23,"y":-0.12},{"x":-0.31,"y":0.14},{"x":-0.37,"y":-0.68},{"x":-0.29,"y":-0.25},
{"x":-0.24,"y":-0.38},{"x":-0.32,"y":0.44},{"x":-0.29,"y":-0.86},{"x":-0.36,"y":-0.12},{"x":-0.21,"y":-0.29},{"x":-0.34,"y":0.00},{"x":-0.39,"y":-0.80},{"x":-0.25,"y":-0.09},{"x":-0.27,"y":0.66},{"x":-0.33,"y":-0.61},{"x":-0.22,"y":-0.18},{"x":-0.38,"y":-1.02},{"x":-0.28,"y":0.12},{"x":-0.35,"y":-0.51},{"x":-0.26,"y":-0.13},{"x":-0.31,"y":0.25},{"x":-0.20,"y":-0.58},{"x":-0.37,"y":-0.36},
{"x":-0.41,"y":-0.43},{"x":-0.53,"y":-0.09},{"x":-0.47,"y":-0.66},{"x":-0.58,"y":0.29},{"x":-0.44,"y":-0.89},{"x":-0.51,"y":-0.39},{"x":-0.56,"y":-0.67},{"x":-0.42,"y":-0.05},{"x":-0.49,"y":-1.24},{"x":-0.54,"y":-0.30},{"x":-0.46,"y":-0.79},{"x":-0.59,"y":0.07},{"x":-0.43,"y":-0.40},{"x":-0.52,"y":-1.03},{"x":-0.48,"y":-0.32},{"x":-0.57,"y":-0.62},{"x":-0.45,"y":0.03},{"x":-0.50,"y":-0.74},{"x":-0.55,"y":-0.21},{"x":-0.40,"y":-1.09},
{"x":-0.43,"y":-0.34},{"x":-0.55,"y":-0.28},{"x":-0.46,"y":-0.62},{"x":-0.59,"y":0.03},{"x":-0.41,"y":-0.80},{"x":-0.50,"y":-0.33},{"x":-0.57,"y":-0.55},{"x":-0.44,"y":-0.05},{"x":-0.48,"y":-1.33},{"x":-0.53,"y":-0.31},{"x":-0.45,"y":-0.68},{"x":-0.58,"y":0.15},{"x":-0.42,"y":-0.46},{"x":-0.51,"y":-0.22},{"x":-0.49,"y":-0.97},{"x":-0.56,"y":-0.41},{"x":-0.47,"y":0.00},{"x":-0.52,"y":-0.82},{"x":-0.54,"y":-0.48},{"x":-0.41,"y":-0.53},
{"x":-0.42,"y":0.35},{"x":-0.54,"y":-1.09},{"x":-0.48,"y":-0.23},{"x":-0.57,"y":-0.61},{"x":-0.45,"y":-0.10},{"x":-0.52,"y":-0.92},{"x":-0.58,"y":-0.38},{"x":-0.40,"y":0.54},{"x":-0.50,"y":-0.76},{"x":-0.55,"y":-0.48},{"x":-0.44,"y":-1.08},{"x":-0.59,"y":-0.16},{"x":-0.46,"y":-0.60},{"x":-0.53,"y":-0.38},{"x":-0.47,"y":0.11},{"x":-0.56,"y":-0.90},{"x":-0.43,"y":-0.42},{"x":-0.51,"y":-0.19},{"x":-0.57,"y":-1.48},{"x":-0.49,"y":-0.28},
{"x":-0.44,"y":-0.65},{"x":-0.52,"y":0.00},{"x":-0.49,"y":-0.57},{"x":-0.56,"y":-0.44},{"x":-0.41,"y":-0.88},{"x":-0.54,"y":-0.17},{"x":-0.59,"y":-0.62},{"x":-0.45,"y":0.23},{"x":-0.47,"y":-0.76},{"x":-0.53,"y":-0.35},
{"x":-0.61,"y":-0.59},{"x":-0.73,"y":-0.31},{"x":-0.67,"y":-1.50},{"x":-0.78,"y":-0.53},{"x":-0.64,"y":-0.85},{"x":-0.71,"y":0.03},{"x":-0.76,"y":-0.76},{"x":-0.62,"y":-0.32},{"x":-0.69,"y":-1.15},{"x":-0.74,"y":-0.58},{"x":-0.66,"y":-0.17},{"x":-0.79,"y":-1.06},{"x":-0.63,"y":-0.56},{"x":-0.72,"y":-0.81},{"x":-0.68,"y":0.12},{"x":-0.77,"y":-1.29},{"x":-0.65,"y":-0.39},{"x":-0.70,"y":-0.73},{"x":-0.75,"y":-0.37},{"x":-0.60,"y":-0.99},
{"x":-0.63,"y":-0.43},{"x":-0.75,"y":0.22},{"x":-0.66,"y":-0.90},{"x":-0.79,"y":-0.69},{"x":-0.61,"y":-1.23},{"x":-0.70,"y":-0.26},{"x":-0.77,"y":-0.88},{"x":-0.64,"y":-0.48},{"x":-0.68,"y":-0.08},{"x":-0.73,"y":-1.06},{"x":-0.65,"y":-0.62},{"x":-0.78,"y":-0.43},{"x":-0.62,"y":-1.53},{"x":-0.71,"y":-0.48},{"x":-0.69,"y":-0.87},{"x":-0.76,"y":-0.21},{"x":-0.67,"y":-0.73},{"x":-0.72,"y":-0.59},{"x":-0.74,"y":-1.18},{"x":-0.61,"y":-0.23},
{"x":-0.62,"y":-0.65},{"x":-0.74,"y":-0.03},{"x":-0.68,"y":-0.95},{"x":-0.77,"y":-0.56},{"x":-0.65,"y":-0.81},{"x":-0.72,"y":-0.24},{"x":-0.78,"y":-1.32},{"x":-0.60,"y":-0.51},{"x":-0.70,"y":-0.96},{"x":-0.75,"y":-0.18},{"x":-0.64,"y":-0.72},{"x":-0.79,"y":-0.45},{"x":-0.66,"y":-1.24},{"x":-0.73,"y":-0.51},{"x":-0.67,"y":-0.66},{"x":-0.76,"y":-0.29},{"x":-0.63,"y":-0.81},{"x":-0.71,"y":0.17},{"x":-0.77,"y":-1.18},{"x":-0.69,"y":-0.55},
{"x":-0.81,"y":-1.04},{"x":-0.93,"y":-0.82},{"x":-0.87,"y":-1.46},{"x":-0.98,"y":-0.51},{"x":-0.84,"y":-0.95},{"x":-0.91,"y":-0.72},{"x":-0.96,"y":-0.33},{"x":-0.82,"y":-1.14},{"x":-0.89,"y":-0.83},{"x":-0.94,"y":-0.58},{"x":-0.86,"y":-1.74},{"x":-0.99,"y":-0.73},{"x":-0.83,"y":-1.00},{"x":-0.92,"y":-0.36},{"x":-0.88,"y":-0.92},{"x":-0.97,"y":-0.81},{"x":-0.85,"y":-1.28},{"x":-0.90,"y":-0.49},{"x":-0.95,"y":-0.95},{"x":-0.80,"y":-0.08},
{"x":-0.83,"y":-1.09},{"x":-0.95,"y":-0.73},{"x":-0.86,"y":-0.99},{"x":-0.99,"y":-0.48},{"x":-0.81,"y":-1.35},{"x":-0.90,"y":-0.78},{"x":-0.97,"y":-1.20},{"x":-0.84,"y":-0.26},{"x":-0.88,"y":-0.93},{"x":-0.93,"y":-0.58},{"x":-0.85,"y":-1.42},{"x":-0.98,"y":-0.73},{"x":-0.82,"y":-0.80},{"x":-0.91,"y":-0.43},{"x":-0.89,"y":-1.04},{"x":-0.96,"y":-0.05},{"x":-0.87,"y":-1.27},{"x":-0.92,"y":-0.76},{"x":-0.94,"y":-1.02},{"x":-0.81,"y":-0.40},
{"x":-0.82,"y":-1.54},{"x":-0.94,"y":-0.66},{"x":-0.88,"y":-1.17},{"x":-0.97,"y":-0.27},{"x":-0.85,"y":-0.78},{"x":-0.92,"y":-1.39},{"x":-0.98,"y":-0.77},{"x":-0.80,"y":-0.83},{"x":-0.90,"y":-0.37},{"x":-0.95,"y":-1.15},
{"x":-1.01,"y":-1.20},{"x":-1.13,"y":-0.73},{"x":-1.07,"y":-1.69},{"x":-1.18,"y":-1.01},{"x":-1.04,"y":-0.72},{"x":-1.11,"y":-1.21},{"x":-1.16,"y":-0.48},{"x":-1.02,"y":-1.35},{"x":-1.09,"y":-0.86},{"x":-1.14,"y":-1.07},{"x":-1.06,"y":-0.60},{"x":-1.19,"y":-1.97},{"x":-1.03,"y":-0.76},{"x":-1.12,"y":-1.28},{"x":-1.08,"y":-0.30},{"x":-1.17,"y":-1.13},{"x":-1.05,"y":-0.71},{"x":-1.10,"y":-1.52},{"x":-1.15,"y":-0.95},{"x":-1.00,"y":-0.48},
{"x":-1.03,"y":-1.28},{"x":-1.15,"y":-1.03},{"x":-1.06,"y":-1.11},{"x":-1.19,"y":-0.34},{"x":-1.01,"y":-1.51},{"x":-1.10,"y":-0.79},{"x":-1.17,"y":-1.15},{"x":-1.04,"y":-0.63},{"x":-1.08,"y":-1.42},{"x":-1.13,"y":-0.88},{"x":-1.05,"y":-0.05},{"x":-1.18,"y":-1.37},{"x":-1.02,"y":-0.90},{"x":-1.11,"y":-1.68},{"x":-1.09,"y":-0.61},{"x":-1.16,"y":-1.23},{"x":-1.07,"y":-0.86},{"x":-1.12,"y":-0.48},{"x":-1.14,"y":-1.43},{"x":-1.01,"y":-0.94},{"x":-1.02,"y":-0.65},{"x":-1.14,"y":-2.00},
{"x":-1.21,"y":-1.03},{"x":-1.33,"y":-1.71},{"x":-1.27,"y":-0.82},{"x":-1.38,"y":-1.33},{"x":-1.24,"y":-0.48},{"x":-1.31,"y":-1.52},{"x":-1.36,"y":-1.09},{"x":-1.22,"y":-1.32},{"x":-1.29,"y":-0.75},{"x":-1.34,"y":-1.83},{"x":-1.26,"y":-1.10},{"x":-1.39,"y":-1.58},{"x":-1.23,"y":-0.61},{"x":-1.32,"y":-1.33},{"x":-1.28,"y":-0.89},{"x":-1.37,"y":-1.88},{"x":-1.25,"y":-0.98},{"x":-1.30,"y":-1.23},{"x":-1.35,"y":-0.83},{"x":-1.20,"y":-1.32},
{"x":-1.23,"y":-0.30},{"x":-1.35,"y":-1.71},{"x":-1.26,"y":-1.06},{"x":-1.39,"y":-1.42},{"x":-1.21,"y":-0.76},{"x":-1.30,"y":-1.97},{"x":-1.37,"y":-1.04},{"x":-1.24,"y":-1.50},{"x":-1.28,"y":-0.55},{"x":-1.33,"y":-1.21},{"x":-1.25,"y":-1.69},{"x":-1.38,"y":-1.13},{"x":-1.22,"y":-1.21},{"x":-1.31,"y":-0.74},
{"x":-1.41,"y":-1.10},{"x":-1.53,"y":-1.65},{"x":-1.47,"y":-0.65},{"x":-1.58,"y":-1.50},{"x":-1.44,"y":-1.06},{"x":-1.51,"y":-1.89},{"x":-1.56,"y":-1.31},{"x":-1.42,"y":-0.86},{"x":-1.49,"y":-1.69},{"x":-1.54,"y":-1.38},{"x":-1.46,"y":-1.47},{"x":-1.59,"y":-0.70},{"x":-1.43,"y":-1.89},{"x":-1.52,"y":-1.17},{"x":-1.48,"y":-1.43},{"x":-1.57,"y":-1.10},{"x":-1.45,"y":-1.76},{"x":-1.50,"y":-1.21},{"x":-1.55,"y":-0.50},{"x":-1.40,"y":-1.57},{"x":-1.43,"y":-1.27},{"x":-1.55,"y":-2.08},{"x":-1.46,"y":-0.94},{"x":-1.59,"y":-1.62},{"x":-1.41,"y":-1.17},{"x":-1.50,"y":-0.82},
{"x":-1.61,"y":-0.95},{"x":-1.73,"y":-1.70},{"x":-1.67,"y":-1.24},{"x":-1.78,"y":-2.25},{"x":-1.64,"y":-1.33},{"x":-1.71,"y":-1.60},{"x":-1.76,"y":-1.19},{"x":-1.62,"y":-1.70},{"x":-1.69,"y":-0.71},{"x":-1.74,"y":-2.06},{"x":-1.66,"y":-1.42},{"x":-1.79,"y":-1.78},{"x":-1.63,"y":-1.14},{"x":-1.72,"y":-2.35},{"x":-1.68,"y":-1.32},{"x":-1.77,"y":-1.97},{"x":-1.65,"y":-0.89},{"x":-1.70,"y":-1.54},{"x":-1.75,"y":-2.14},{"x":-1.60,"y":-1.33},
{"x":-1.81,"y":-1.53},{"x":-1.93,"y":-1.21},{"x":-1.87,"y":-2.08},{"x":-1.98,"y":-1.81},{"x":-1.84,"y":-1.39},{"x":-1.91,"y":-2.69},{"x":-1.96,"y":-1.60},{"x":-1.82,"y":-1.89},{"x":-1.89,"y":-1.23},{"x":-1.94,"y":-1.88},{"x":-1.86,"y":-1.61},{"x":-1.99,"y":-2.30},{"x":-1.83,"y":-1.33},{"x":-1.92,"y":-1.82},
{"x":-0.015,"y":-0.67},{"x":-0.125,"y":0.10},{"x":-0.065,"y":-0.11},{"x":-0.175,"y":0.20},{"x":-0.035,"y":-0.39},{"x":-0.105,"y":0.77},{"x":-0.155,"y":-0.32},{"x":-0.025,"y":0.07},{"x":-0.085,"y":-0.62},{"x":-0.145,"y":0.15},{"x":-0.055,"y":-0.17},{"x":-0.195,"y":0.37},{"x":-0.045,"y":-0.46},{"x":-0.115,"y":0.06},{"x":-0.075,"y":-0.91},{"x":-0.165,"y":0.08},{"x":-0.005,"y":-0.09},{"x":-0.095,"y":0.31},{"x":-0.185,"y":-0.47},{"x":-0.135,"y":0.50},
{"x":-0.025,"y":-0.49},{"x":-0.155,"y":-0.08},{"x":-0.065,"y":-0.28},{"x":-0.185,"y":0.15},{"x":-0.045,"y":-0.75},{"x":-0.115,"y":0.01},{"x":-0.175,"y":0.32},{"x":-0.015,"y":-0.38},{"x":-0.095,"y":0.11},{"x":-0.145,"y":-0.16},{"x":-0.075,"y":-0.27},{"x":-0.195,"y":0.16},{"x":-0.035,"y":-0.10},{"x":-0.125,"y":0.48},{"x":-0.085,"y":-0.52},{"x":-0.165,"y":-0.07},{"x":-0.055,"y":-0.80},{"x":-0.105,"y":0.16},{"x":-0.135,"y":-0.27},{"x":-0.005,"y":0.46},
{"x":-0.035,"y":-0.35},{"x":-0.145,"y":-0.13},{"x":-0.075,"y":0.70},{"x":-0.165,"y":-0.73},{"x":-0.015,"y":0.17},{"x":-0.125,"y":-0.21},{"x":-0.185,"y":0.21},{"x":-0.055,"y":-0.44},{"x":-0.095,"y":0.04},{"x":-0.155,"y":-1.02},{"x":-0.025,"y":0.49},{"x":-0.195,"y":-0.41},{"x":-0.065,"y":-0.02},{"x":-0.115,"y":-0.59},{"x":-0.085,"y":0.22},{"x":-0.175,"y":-0.30},{"x":-0.045,"y":0.65},{"x":-0.105,"y":-0.38},{"x":-0.135,"y":-0.14},{"x":-0.015,"y":0.42},
{"x":-0.215,"y":-0.39},{"x":-0.325,"y":0.05},{"x":-0.265,"y":-0.31},{"x":-0.375,"y":0.25},{"x":-0.235,"y":-0.65},{"x":-0.305,"y":-0.20},{"x":-0.355,"y":-1.07},{"x":-0.225,"y":0.05},{"x":-0.285,"y":-0.41},{"x":-0.345,"y":0.15},{"x":-0.255,"y":-0.55},{"x":-0.395,"y":-0.36},{"x":-0.245,"y":0.55},{"x":-0.315,"y":-0.86},{"x":-0.275,"y":-0.07},{"x":-0.365,"y":-0.43},{"x":-0.205,"y":0.20},{"x":-0.295,"y":-0.66},{"x":-0.385,"y":-0.22},{"x":-0.335,"y":-1.31},
{"x":-0.225,"y":0.31},{"x":-0.355,"y":-0.55},{"x":-0.265,"y":-0.20},{"x":-0.385,"y":-0.84},{"x":-0.245,"y":0.08},{"x":-0.315,"y":-0.42},{"x":-0.375,"y":0.35},{"x":-0.215,"y":-0.47},{"x":-0.295,"y":-0.29},{"x":-0.345,"y":0.12},{"x":-0.275,"y":-0.91},{"x":-0.395,"y":-0.15},{"x":-0.235,"y":-0.26},{"x":-0.325,"y":0.07},{"x":-0.285,"y":-0.62},{"x":-0.365,"y":0.53},{"x":-0.255,"y":-0.41},{"x":-0.305,"y":-0.19},{"x":-0.335,"y":-0.84},{"x":-0.205,"y":0.10},
{"x":-0.235,"y":-0.33},{"x":-0.345,"y":0.24},{"x":-0.275,"y":-0.67},{"x":-0.365,"y":-0.17},{"x":-0.215,"y":-1.03},{"x":-0.325,"y":-0.06},{"x":-0.385,"y":-0.43},{"x":-0.255,"y":0.17},{"x":-0.295,"y":-0.57},{"x":-0.355,"y":0.30},{"x":-0.225,"y":-0.67},{"x":-0.395,"y":-0.30},{"x":-0.265,"y":-0.46},{"x":-0.315,"y":0.04},{"x":-0.285,"y":-0.97},
{"x":-0.415,"y":-0.47},{"x":-0.525,"y":-0.09},{"x":-0.465,"y":-0.81},{"x":-0.575,"y":-0.39},{"x":-0.435,"y":-1.40},{"x":-0.505,"y":0.06},{"x":-0.555,"y":-0.73},{"x":-0.425,"y":-0.34},{"x":-0.485,"y":-0.93},{"x":-0.545,"y":-0.19},{"x":-0.455,"y":-0.55},{"x":-0.595,"y":0.15},{"x":-0.445,"y":-0.68},{"x":-0.515,"y":-0.48},{"x":-0.475,"y":0.00},{"x":-0.565,"y":-1.17},{"x":-0.405,"y":-0.16},{"x":-0.495,"y":-0.50},{"x":-0.585,"y":-0.17},{"x":-0.535,"y":-0.84},
{"x":-0.425,"y":0.48},{"x":-0.555,"y":-0.68},{"x":-0.465,"y":-0.33},{"x":-0.585,"y":-1.07},{"x":-0.445,"y":-0.12},{"x":-0.515,"y":-0.58},{"x":-0.575,"y":0.03},{"x":-0.415,"y":-0.79},{"x":-0.495,"y":-0.29},{"x":-0.545,"y":-1.33},{"x":-0.475,"y":-0.20},{"x":-0.595,"y":-0.62},{"x":-0.435,"y":0.01},{"x":-0.525,"y":-0.77},{"x":-0.485,"y":0.18},{"x":-0.565,"y":-0.98},{"x":-0.455,"y":-0.35},{"x":-0.505,"y":-0.68},{"x":-0.535,"y":-0.16},{"x":-0.405,"y":-1.08},
{"x":-0.435,"y":-0.28},{"x":-0.545,"y":-0.01},{"x":-0.475,"y":-0.80},{"x":-0.565,"y":-0.31},{"x":-0.415,"y":-0.40},{"x":-0.525,"y":-0.67},{"x":-0.585,"y":-0.19},{"x":-0.455,"y":-0.48},{"x":-0.495,"y":0.14},{"x":-0.555,"y":-0.94},
{"x":-0.615,"y":-0.32},{"x":-0.725,"y":-0.73},{"x":-0.665,"y":-0.20},{"x":-0.775,"y":-1.00},{"x":-0.635,"y":0.05},{"x":-0.705,"y":-1.11},{"x":-0.755,"y":-0.62},{"x":-0.625,"y":-0.78},{"x":-0.685,"y":-0.30},{"x":-0.745,"y":-1.38},{"x":-0.655,"y":-0.48},{"x":-0.795,"y":-0.24},{"x":-0.645,"y":-0.95},{"x":-0.715,"y":-0.44},{"x":-0.675,"y":-0.64},{"x":-0.765,"y":-0.89},{"x":-0.605,"y":-0.21},{"x":-0.695,"y":-0.70},{"x":-0.785,"y":-0.12},{"x":-0.735,"y":-1.10},
{"x":-0.625,"y":-0.48},{"x":-0.755,"y":-1.43},{"x":-0.665,"y":-0.35},{"x":-0.785,"y":-0.86},{"x":-0.645,"y":-0.12},{"x":-0.715,"y":-0.96},{"x":-0.775,"y":-0.70},{"x":-0.615,"y":0.22},{"x":-0.695,"y":-1.21},{"x":-0.745,"y":-0.49},{"x":-0.675,"y":-0.71},{"x":-0.795,"y":-0.34},{"x":-0.635,"y":-0.96},{"x":-0.725,"y":-0.52},{"x":-0.685,"y":-1.63},{"x":-0.765,"y":-0.18},{"x":-0.655,"y":-0.82},{"x":-0.705,"y":-0.60},{"x":-0.735,"y":-1.15},{"x":-0.605,"y":-0.25},
{"x":-0.635,"y":-0.71},{"x":-0.745,"y":0.02},{"x":-0.675,"y":-0.89},{"x":-0.765,"y":-0.71},{"x":-0.615,"y":-0.12},
{"x":-0.815,"y":-1.05},{"x":-0.925,"y":-0.83},{"x":-0.865,"y":-0.01},{"x":-0.975,"y":-1.46},{"x":-0.835,"y":-0.57},{"x":-0.905,"y":-0.92},{"x":-0.955,"y":-0.48},{"x":-0.825,"y":-1.13},{"x":-0.885,"y":-0.67},{"x":-0.945,"y":-1.86},{"x":-0.855,"y":-0.26},{"x":-0.995,"y":-1.13},{"x":-0.845,"y":-0.72},{"x":-0.915,"y":-1.31},{"x":-0.875,"y":-0.49},{"x":-0.965,"y":-1.01},{"x":-0.805,"y":-0.04},{"x":-0.895,"y":-1.09},{"x":-0.985,"y":-0.91},{"x":-0.935,"y":-0.41},
{"x":-0.825,"y":-1.40},{"x":-0.955,"y":-0.65},{"x":-0.865,"y":-0.83},{"x":-0.985,"y":-0.53},{"x":-0.845,"y":-1.12},{"x":-0.915,"y":0.04},{"x":-0.975,"y":-1.06},{"x":-0.815,"y":-0.64},{"x":-0.895,"y":-1.35},{"x":-0.945,"y":-0.57},{"x":-0.875,"y":-0.91},{"x":-0.995,"y":-0.35},{"x":-0.835,"y":-1.17},{"x":-0.925,"y":-0.67},{"x":-0.885,"y":-1.64},{"x":-0.965,"y":-0.64},{"x":-0.855,"y":-0.85},{"x":-0.905,"y":-0.42},{"x":-0.935,"y":-1.14},{"x":-0.805,"y":-0.11},
{"x":-1.015,"y":-1.38},{"x":-1.125,"y":-0.95},{"x":-1.065,"y":-1.18},{"x":-1.175,"y":-0.74},{"x":-1.035,"y":-1.64},{"x":-1.105,"y":-0.89},{"x":-1.155,"y":-0.56},{"x":-1.025,"y":-1.29},{"x":-1.085,"y":-0.78},{"x":-1.145,"y":-1.06},{"x":-1.055,"y":-1.15},{"x":-1.195,"y":-0.74},{"x":-1.045,"y":-1.01},{"x":-1.115,"y":-0.41},{"x":-1.075,"y":-1.41},{"x":-1.165,"y":-0.97},{"x":-1.005,"y":-1.66},{"x":-1.095,"y":-0.74},{"x":-1.185,"y":-1.22},{"x":-1.135,"y":-0.56},{"x":-1.025,"y":-1.24},{"x":-1.155,"y":-1.04},{"x":-1.065,"y":-0.19},{"x":-1.185,"y":-1.65},{"x":-1.045,"y":-0.76},{"x":-1.115,"y":-1.10},{"x":-1.175,"y":-0.68},{"x":-1.015,"y":-1.30},{"x":-1.095,"y":-0.86},{"x":-1.145,"y":-2.04},
{"x":-1.215,"y":-0.58},{"x":-1.325,"y":-1.42},{"x":-1.265,"y":-1.10},{"x":-1.375,"y":-1.73},{"x":-1.235,"y":-0.81},{"x":-1.305,"y":-1.32},{"x":-1.355,"y":-0.53},{"x":-1.225,"y":-1.38},{"x":-1.285,"y":-1.18},{"x":-1.345,"y":-0.78},{"x":-1.255,"y":-1.79},{"x":-1.395,"y":-1.05},{"x":-1.245,"y":-1.17},{"x":-1.315,"y":-0.82},{"x":-1.275,"y":-1.51},{"x":-1.365,"y":-0.37},{"x":-1.205,"y":-1.27},{"x":-1.295,"y":-1.08},{"x":-1.385,"y":-1.79},{"x":-1.335,"y":-0.92},{"x":-1.225,"y":-1.22},{"x":-1.355,"y":-0.67},{"x":-1.265,"y":-1.56},{"x":-1.385,"y":-1.09},{"x":-1.245,"y":-1.96},
{"x":-1.415,"y":-1.39},{"x":-1.525,"y":-0.82},{"x":-1.465,"y":-1.74},{"x":-1.575,"y":-1.26},{"x":-1.435,"y":-2.13},{"x":-1.505,"y":-1.13},{"x":-1.555,"y":-1.48},{"x":-1.425,"y":-0.88},{"x":-1.485,"y":-1.64},{"x":-1.545,"y":-0.77},{"x":-1.455,"y":-1.78},{"x":-1.595,"y":-1.38},{"x":-1.445,"y":-1.52},{"x":-1.515,"y":-1.04},{"x":-1.475,"y":-2.04},{"x":-1.565,"y":-1.30},{"x":-1.405,"y":-0.79},{"x":-1.495,"y":-1.72},{"x":-1.585,"y":-1.23},{"x":-1.535,"y":-1.41},
{"x":-1.615,"y":-1.37},{"x":-1.725,"y":-2.30},{"x":-1.665,"y":-1.25},{"x":-1.775,"y":-1.75},{"x":-1.635,"y":-1.01},{"x":-1.705,"y":-1.86},{"x":-1.755,"y":-1.58},{"x":-1.625,"y":-0.69},{"x":-1.685,"y":-2.10},{"x":-1.745,"y":-1.39},{"x":-1.655,"y":-1.59},{"x":-1.795,"y":-1.24},{"x":-1.645,"y":-1.87},{"x":-1.715,"y":-1.41},{"x":-1.675,"y":-2.52},
{"x":-1.815,"y":-2.29},{"x":-1.925,"y":-1.52},{"x":-1.865,"y":-1.73},{"x":-1.975,"y":-1.42},{"x":-1.835,"y":-2.01},{"x":-1.905,"y":-1.16},{"x":-1.955,"y":-1.94},{"x":-1.825,"y":-1.55},{"x":-1.885,"y":-2.24},{"x":-1.945,"y":-1.47}
]
},
"layer": [
{
"data": {"name": "T"},
"mark": {"type": "point", "filled": true, "size": 22, "opacity": 0.5, "stroke": "#ffffff", "strokeWidth": 0.5},
"encoding": {
"x": {"field": "x", "type": "quantitative", "scale": {"domain": [-3.89, 3.67], "nice": false, "zero": false}, "axis": {"values": [-3, -2, -1, 0, 1, 2, 3], "format": "d", "title": "X Values - Pre/Post Program", "labelPadding": 6, "titlePadding": 3}},
"y": {"field": "y", "type": "quantitative", "scale": {"domain": [-4.58, 5.93], "nice": false, "zero": false}, "axis": {"values": [-4, -2, 0, 2, 4], "format": "d", "title": "Y Values - Post Program", "labelPadding": 8, "titlePadding": 5}},
"color": {
"datum": "Treated Group",
"scale": {"domain": ["Treated Group", "Untreated Group", "Eligibility Threshold"], "range": ["#1f77b4", "#ff7f0e", "#262626"]},
"legend": {"title": null, "orient": "none", "legendX": 3, "legendY": 4, "fillColor": "rgba(255,255,255,0.8)", "strokeColor": "#cccccc", "cornerRadius": 3, "padding": 4, "rowPadding": 3.5, "symbolSize": 16, "symbolStrokeWidth": 0, "symbolOpacity": 1, "symbolOffset": 6, "labelOffset": 13}
},
"shape": {
"datum": "Treated Group",
"scale": {"domain": ["Treated Group", "Untreated Group", "Eligibility Threshold"], "range": ["circle", "circle", "M-5.5,-0.5H5.5V0.5H-5.5Z"]},
"legend": {"title": null, "orient": "none", "legendX": 3, "legendY": 4, "fillColor": "rgba(255,255,255,0.8)", "strokeColor": "#cccccc", "cornerRadius": 3, "padding": 4, "rowPadding": 3.5, "symbolSize": 16, "symbolStrokeWidth": 0, "symbolOpacity": 1, "symbolOffset": 6, "labelOffset": 13}
}
}
},
{
"data": {"name": "U"},
"mark": {"type": "point", "filled": true, "size": 22, "opacity": 0.5, "stroke": "#ffffff", "strokeWidth": 0.5},
"encoding": {
"x": {"field": "x", "type": "quantitative"},
"y": {"field": "y", "type": "quantitative"},
"color": {"datum": "Untreated Group"},
"shape": {"datum": "Untreated Group"}
}
},
{
"data": {"values": [{"x": 0}]},
"mark": {"type": "rule", "strokeWidth": 2},
"encoding": {
"x": {"field": "x", "type": "quantitative"},
"color": {"datum": "Eligibility Threshold"}
}
}
]
}
